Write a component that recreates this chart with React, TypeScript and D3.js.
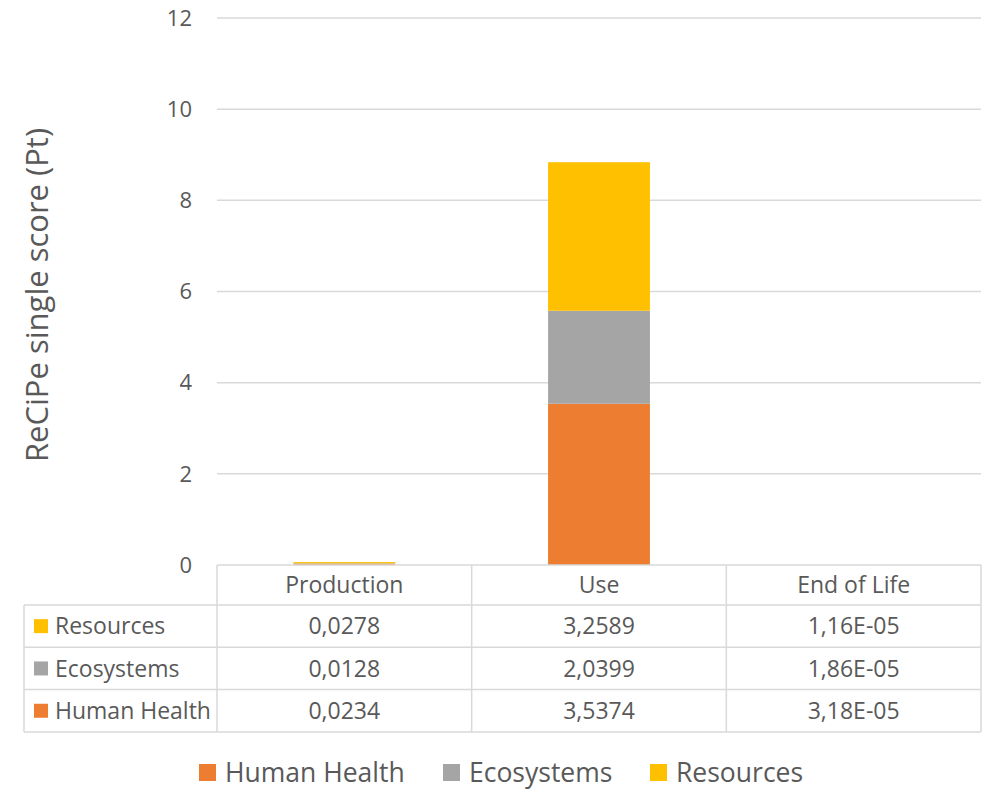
import React from "react";
import * as d3 from "d3";

// Life-cycle stages and the ReCiPe endpoint scores per damage category (Pt)
const stages = ["Production", "Use", "End of Life"];
const humanHealth = [0.0234, 3.5374, 3.18e-5];
const ecosystems = [0.0128, 2.0399, 1.86e-5];
const resources = [0.0278, 3.2589, 1.16e-5];
const yTicks = [0, 2, 4, 6, 8, 10, 12];

const seriesNames = ["Human Health", "Ecosystems", "Resources"];
const seriesColors = ["#ED7D31", "#A5A5A5", "#FFC000"];

const W = 987;
const H = 789;
const FONT = "'Open Sans', sans-serif";
const TEXT = "#595959";
const GRID = "#D9D9D9";

// decimal comma, scientific notation for very small values
function fmt(v: number): string {
  if (v !== 0 && Math.abs(v) < 0.001) {
    const [m, e] = d3.format(".2e")(v).split("e");
    const exp = parseInt(e, 10);
    const sign = exp < 0 ? "-" : "+";
    return `${m.replace(".", ",")}E${sign}${String(Math.abs(exp)).padStart(2, "0")}`;
  }
  return d3.format(".4f")(v).replace(".", ",");
}

export default function App() {
  const left = 217;
  const right = 981;
  const top = 18;
  const bottom = 565;

  const x = d3.scaleBand<string>().domain(stages).range([left, right]).paddingInner(0.6).paddingOuter(0.3);
  const xCol = d3.scaleBand<string>().domain(stages).range([left, right]);
  const y = d3.scaleLinear().domain([0, 12]).range([bottom, top]);

  const rows = stages.map((s, i) => ({
    stage: s,
    "Human Health": humanHealth[i],
    Ecosystems: ecosystems[i],
    Resources: resources[i],
  }));
  const stacked = d3.stack<any>().keys(seriesNames)(rows);

  // table rows top-to-bottom (reverse stacking order)
  const tableRows = [
    { name: "Resources", color: seriesColors[2], values: resources },
    { name: "Ecosystems", color: seriesColors[1], values: ecosystems },
    { name: "Human Health", color: seriesColors[0], values: humanHealth },
  ];
  const tableLeft = 24;
  const headerBottom = 605;
  const rowH = 42.3;
  const tableBottom = headerBottom + rowH * tableRows.length;
  const tableFont = 23;

  const legendItems = [
    { name: "Human Health", color: seriesColors[0], x: 199 },
    { name: "Ecosystems", color: seriesColors[1], x: 443 },
    { name: "Resources", color: seriesColors[2], x: 650 },
  ];

  return (
    <svg width={W} height={H} style={{ display: "block", position: "absolute", left: 0, top: 0 }} fontFamily={FONT}>
      <rect width={W} height={H} fill="#fff" />
      {/* gridlines and y tick labels */}
      {yTicks.map((t) => (
        <g key={t}>
          {t > 0 && <line x1={left} x2={right} y1={y(t)} y2={y(t)} stroke={GRID} strokeWidth={1.5} />}
          <text x={192} y={y(t)} dy="0.35em" textAnchor="end" fontSize={22} fill={TEXT}>
            {t}
          </text>
        </g>
      ))}
      <text
        transform={`translate(37,295) rotate(-90)`}
        textAnchor="middle"
        dy="0.35em"
        fontSize={31}
        fill={TEXT}
      >
        ReCiPe single score (Pt)
      </text>

      {/* stacked bars */}
      {stacked.map((layer, li) => (
        <g key={layer.key} fill={seriesColors[li]}>
          {layer.map((d, i) => (
            <rect
              key={i}
              x={x(stages[i])}
              width={x.bandwidth()}
              y={y(d[1])}
              height={Math.max(0, y(d[0]) - y(d[1]))}
            />
          ))}
        </g>
      ))}

      {/* data table */}
      <g stroke={GRID} strokeWidth={1.5}>
        <line x1={left} x2={right} y1={bottom} y2={bottom} />
        {[0, 1, 2, 3].map((r) => (
          <line key={r} x1={tableLeft} x2={right} y1={headerBottom + r * rowH} y2={headerBottom + r * rowH} />
        ))}
        <line x1={tableLeft} x2={tableLeft} y1={headerBottom} y2={tableBottom} />
        {stages.map((s) => (
          <line key={s} x1={xCol(s)} x2={xCol(s)} y1={bottom} y2={tableBottom} />
        ))}
        <line x1={right} x2={right} y1={bottom} y2={tableBottom} />
      </g>
      {stages.map((s) => (
        <text
          key={s}
          x={(xCol(s) as number) + xCol.bandwidth() / 2}
          y={(bottom + headerBottom) / 2}
          dy="0.35em"
          textAnchor="middle"
          fontSize={tableFont}
          fill={TEXT}
        >
          {s}
        </text>
      ))}
      {tableRows.map((r, ri) => {
        const cy = headerBottom + rowH * ri + rowH / 2;
        return (
          <g key={r.name}>
            <rect x={34} y={cy - 7} width={14} height={14} fill={r.color} />
            <text x={55} y={cy} dy="0.35em" fontSize={tableFont} fill={TEXT}>
              {r.name}
            </text>
            {r.values.map((v, i) => (
              <text
                key={i}
                x={(xCol(stages[i]) as number) + xCol.bandwidth() / 2}
                y={cy}
                dy="0.35em"
                textAnchor="middle"
                fontSize={tableFont}
                fill={TEXT}
              >
                {fmt(v)}
              </text>
            ))}
          </g>
        );
      })}

      {/* legend */}
      {legendItems.map((l) => (
        <g key={l.name}>
          <rect x={l.x} y={764} width={17} height={17} fill={l.color} />
          <text x={l.x + 26} y={773} dy="0.35em" fontSize={26.5} fill={TEXT}>
            {l.name}
          </text>
        </g>
      ))}
    </svg>
  );
}
